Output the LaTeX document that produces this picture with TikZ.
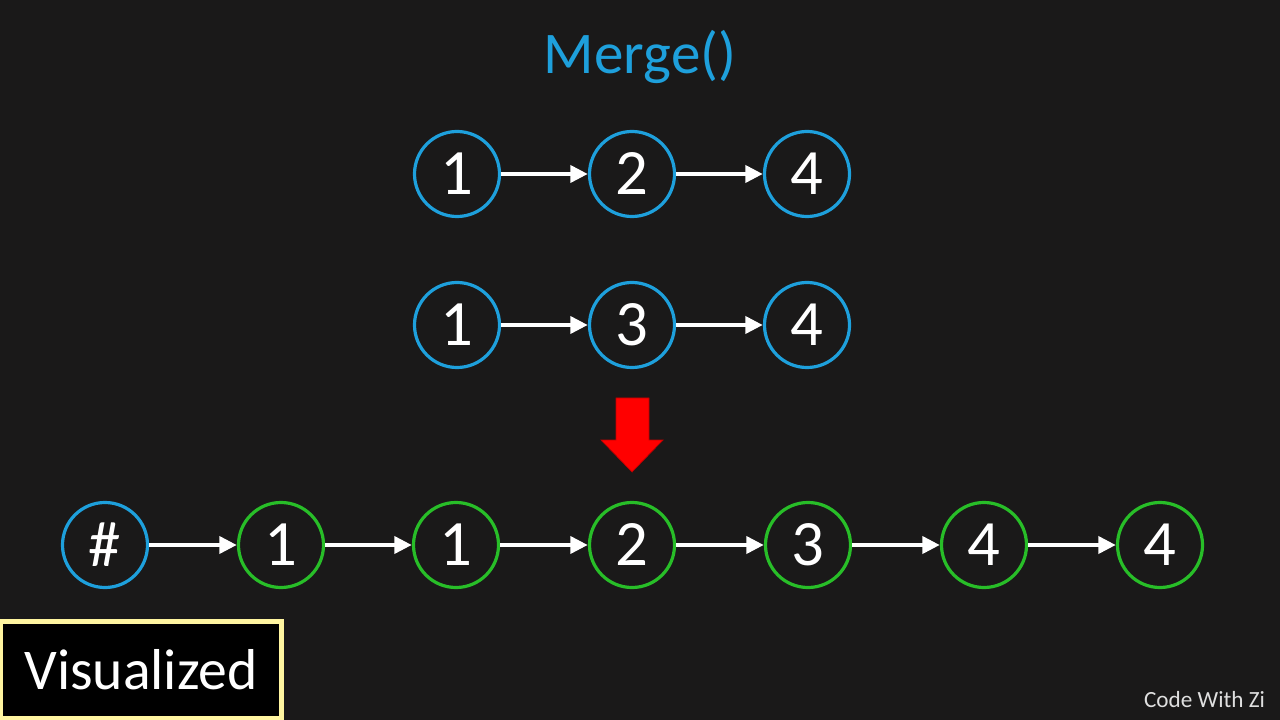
\documentclass[tikz,border=0pt]{standalone}
\usepackage{fontspec}
\setmainfont{Carlito}
\usetikzlibrary{arrows.meta}
\definecolor{bg}{RGB}{26,25,25}
\definecolor{cblue}{RGB}{30,160,220}
\definecolor{cgreen}{RGB}{40,190,40}
\definecolor{cyellow}{RGB}{255,245,160}

\begin{document}
\begin{tikzpicture}[
  x=0.025cm, y=-0.025cm,
  lnode/.style={circle, draw=cblue, line width=0.08cm, minimum size=2.125cm,
    inner sep=0pt, text=white, font=\fontsize{46}{50}\selectfont},
  mnode/.style={lnode, draw=cgreen},
  arr/.style={white, line width=0.11cm, -{Triangle[length=0.44cm, width=0.42cm]}},
]
\fill[bg] (0,0) rectangle (1280,720);
\useasboundingbox (0,0) rectangle (1280,720);

\node (title) [text=cblue, font=\fontsize{42}{48}\selectfont] at (640,57) {Merge()};

\foreach [count=\i] \v/\x in {1/457, 2/632, 4/807} {
  \node (a\i) [lnode] at (\x, 174) {\v};
}
\foreach [count=\i] \v/\x in {1/457, 3/632, 4/807} {
  \node (b\i) [lnode] at (\x, 325) {\v};
}
\foreach \i [evaluate={\j=int(\i+1)}] in {1,2} {
  \draw[arr] (a\i) -- (a\j);
  \draw[arr] (b\i) -- (b\j);
}

% red arrow
\fill[red, draw=red!75!black, line width=0.5pt]
  (616,398) -- (649,398) -- (649,440) -- (663,440) -- (632,472)
  -- (601,440) -- (616,440) -- cycle;

\node (m0) [lnode] at (105, 545) {\#};
\foreach [count=\i] \v/\x in {1/281, 1/456, 2/632, 3/808, 4/984, 4/1160} {
  \node (m\i) [mnode] at (\x, 545) {\v};
}
\foreach \i [evaluate={\j=int(\i+1)}] in {0,...,5} {
  \draw[arr] (m\i) -- (m\j);
}

\node (vis) [draw=cyellow, line width=0.125cm, fill=black, minimum width=7cm,
  minimum height=2.4cm, text=white, font=\fontsize{41}{46}\selectfont]
  at (141, 670) {Visualized};
\node (credit) [anchor=east, text=gray!25, font=\fontsize{16.5}{20}\selectfont]
  at (1270, 700) {Code With Zi};
\end{tikzpicture}
\end{document}
